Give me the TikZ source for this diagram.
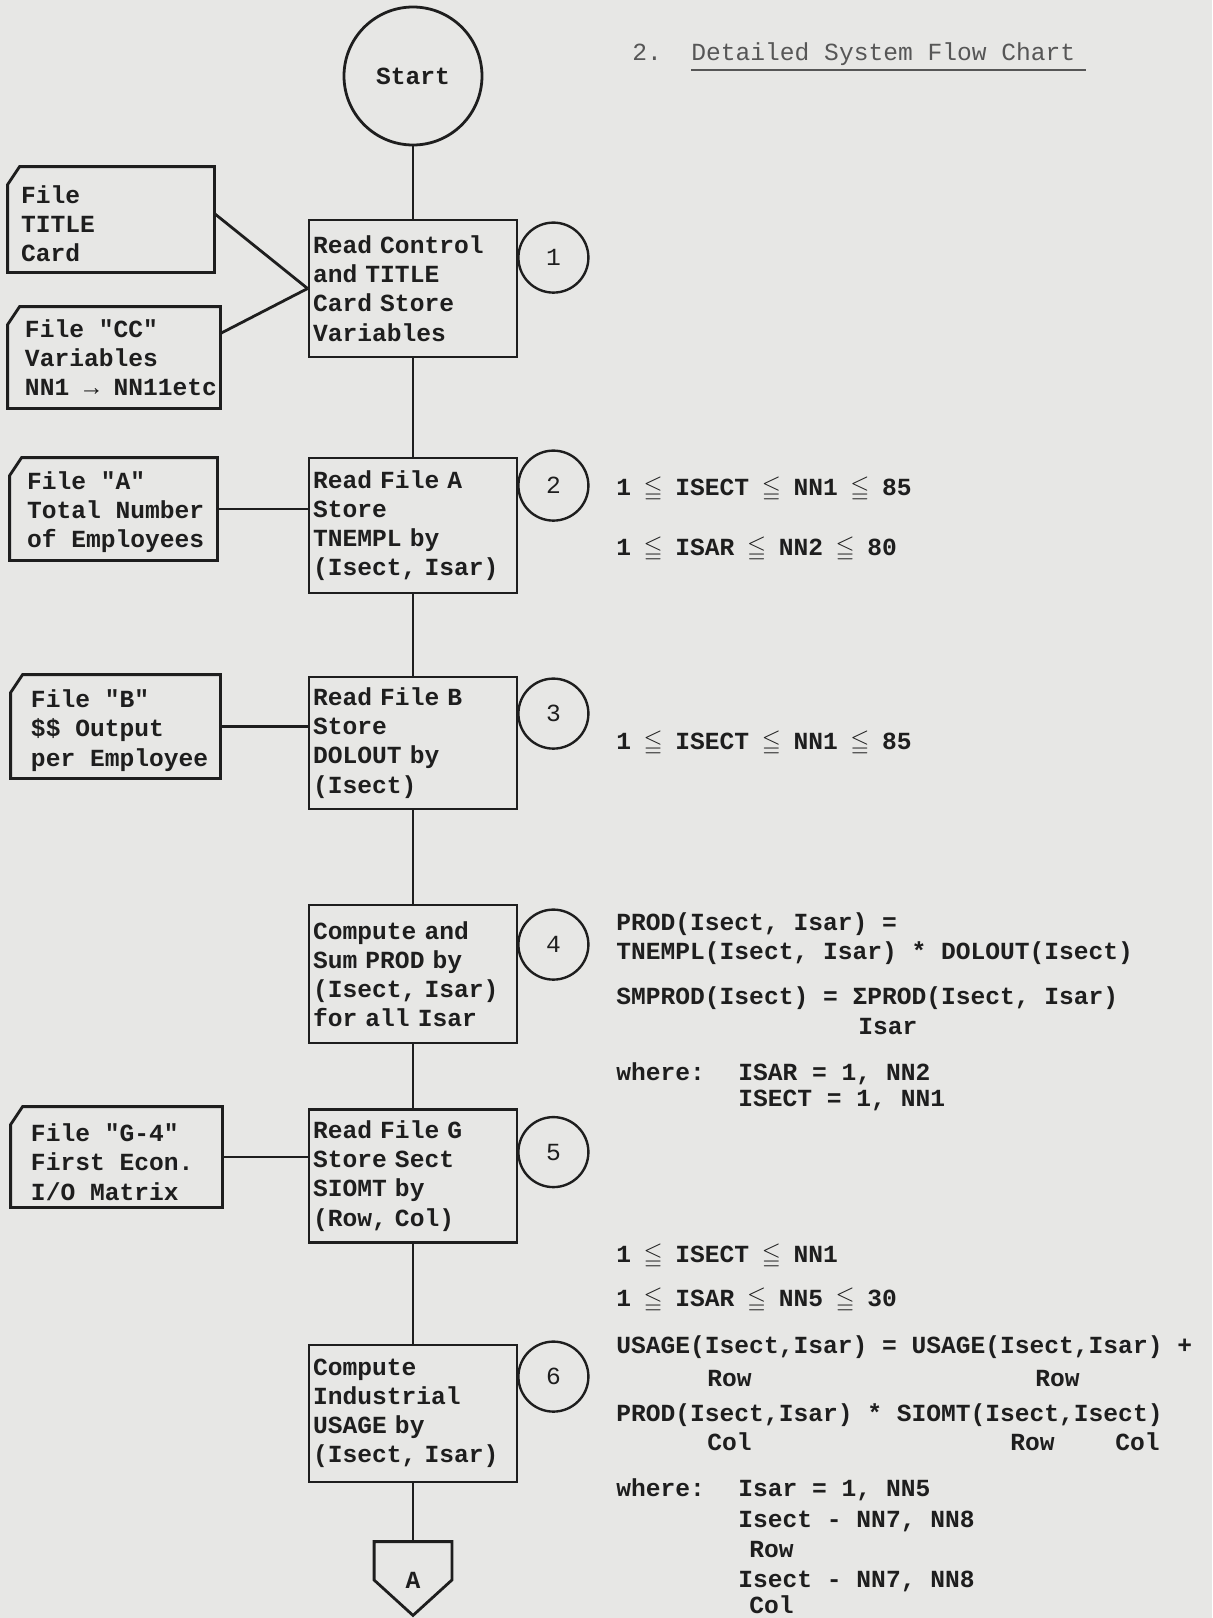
\documentclass[tikz,border=0pt]{standalone}
\usepackage{fontspec}
\usepackage{amssymb}
\setmonofont{Liberation Mono}
\usetikzlibrary{positioning}
\definecolor{paper}{HTML}{E7E7E5}
\definecolor{ink}{HTML}{1E1E1E}
\newcommand{\leqc}{\makebox[0.6em]{$\leqq$}}
\newcommand{\typesize}{\fontsize{12.3pt}{14.6pt}\selectfont}
\newcommand{\cardedge}[1]{%
  \draw[edge] ([yshift=-9pt]#1.north west) -- ([xshift=6pt]#1.north west)
    -- (#1.north east) -- (#1.south east) -- (#1.south west) -- cycle;}

\begin{document}
\begin{tikzpicture}[x=0.5pt, y=-0.5pt,
  font=\ttfamily\bfseries\typesize, text=ink,
  light/.style={font=\ttfamily\mdseries\typesize},
  edge/.style={draw=ink, line width=1.4pt},
  proc/.style={edge, rectangle, align=left, text width=100pt,
               inner xsep=2pt, inner ysep=0pt},
  card/.style={rectangle, inner sep=0pt},
  cardtext/.style={anchor=west, align=left, inner sep=0pt},
  conn/.style={edge, circle, line width=1.2pt, minimum size=35pt, inner sep=0pt, light},
  note/.style={anchor=base west, inner sep=0pt},
  link/.style={draw=ink, line width=1.4pt}]

  % papel
  \fill[paper] (0,0) rectangle (1212,1618);
  \useasboundingbox (0,0) rectangle (1212,1618);

  % titulo
  \node[note, light, text=ink!75] (secno) at (632,60) {2.};
  \node[note, light, text=ink!75] (title) at (691,60) {Detailed System Flow Chart};
  \draw[ink!75, line width=1pt] ([yshift=-5pt]title.base west)
    -- ([yshift=-5pt, xshift=5pt]title.base east);

  % fluxo principal
  \node[edge, circle, minimum size=69pt, inner sep=0pt] (start) at (413,76) {Start};
  \node[proc, minimum height=68.5pt] (rd1) at (413,288.5)
    {Read Control\\and TITLE\\Card Store\\Variables};
  \node[proc, minimum height=67.5pt] (rd2) at (413,525.5)
    {Read File A\\Store\\TNEMPL by\\(Isect, Isar)};
  \node[proc, minimum height=66pt] (rd3) at (413,743)
    {Read File B\\Store\\DOLOUT by\\(Isect)};
  \node[proc, minimum height=69pt] (cmp4) at (413,974)
    {Compute and\\Sum PROD by\\(Isect, Isar)\\for all Isar};
  \node[proc, minimum height=66.5pt] (rd5) at (413,1176)
    {Read File G\\Store Sect\\SIOMT by\\(Row, Col)};
  \node[proc, minimum height=68.5pt] (cmp6) at (413,1413.5)
    {Compute\\Industrial\\USAGE by\\(Isect, Isar)};
  \node[card, minimum width=38.5pt, minimum height=38pt] (offA) at (413,1580) {A};
  \draw[edge] (offA.north west) -- (offA.north east) -- (offA.east)
    -- ([yshift=1.5pt]offA.south) -- (offA.west) -- cycle;

  % numeros dos passos
  \foreach \b/\n/\dy in {rd1/1/19.5, rd2/2/14.5, rd3/3/19, cmp4/4/20.5, rd5/5/22, cmp6/6/16.5}
    \node[conn] (c\n) at ([xshift=17.5pt, yshift=-\dy pt]\b.north east) {\n};

  \foreach \u/\v in {start/rd1, rd1/rd2, rd2/rd3, rd3/cmp4, cmp4/rd5, rd5/cmp6, cmp6/offA}
    \draw[link] (\u) -- (\v);

  % cartoes de entrada
  \node[card, minimum width=103pt, minimum height=52.5pt] (ttl) at (111,219.5) {};
  \node[card, minimum width=106pt, minimum height=50.5pt] (cc) at (114,357.5) {};
  \node[card, minimum width=103.5pt, minimum height=51pt] (fa) at (113.5,509) {};
  \node[card, minimum width=104.5pt, minimum height=51.5pt] (fb) at (115.5,726.5) {};
  \node[card, minimum width=105.5pt, minimum height=50pt] (fg) at (116.5,1157) {};
  \foreach \c in {ttl, cc, fa, fb, fg}
    {\cardedge{\c}}

  \node[cardtext] (ttl-t) at ([xshift=6.5pt, yshift=-2pt]ttl.west) {File\\TITLE\\Card};
  \node[cardtext] (cc-t) at ([xshift=8.5pt]cc.west) {File "CC"\\Variables\\NN1 → NN11etc};
  \node[cardtext] (fa-t) at ([xshift=8.5pt, yshift=-1.5pt]fa.west)
    {File "A"\\Total Number\\of Employees};
  \node[cardtext] (fb-t) at ([xshift=10pt, yshift=-2pt]fb.west)
    {File "B"\\\$\$ Output\\per Employee};
  \node[cardtext] (fg-t) at ([xshift=10pt, yshift=-2.5pt]fg.west)
    {File "G-4"\\First Econ.\\I/O Matrix};

  \draw[link] ([yshift=3pt]ttl.east) -- (rd1.west);
  \draw[link] ([yshift=12pt]cc.east) -- (rd1.west);
  \draw[link] (fa.east) -- (fa.east -| rd2.west);
  \draw[link] (fb.east) -- (fb.east -| rd3.west);
  \draw[link] (fg.east) -- (fg.east -| rd5.west);

  % limites e formulas
  \node[note] (lim2a) at (616,495) {1 \leqc{} ISECT \leqc{} NN1 \leqc{} 85};
  \node[note] (lim2b) at (616,555) {1 \leqc{} ISAR \leqc{} NN2 \leqc{} 80};
  \node[note] (lim3) at (616,749) {1 \leqc{} ISECT \leqc{} NN1 \leqc{} 85};

  \node[note] (f4a) at (616,930) {PROD(Isect, Isar) =};
  \node[note] (f4b) at (616,959) {TNEMPL(Isect, Isar) * DOLOUT(Isect)};
  \node[note] (f4c) at (616,1004) {SMPROD(Isect) = ΣPROD(Isect, Isar)};
  \node[note] (f4d) at (858,1034) {Isar};
  \node[note] (w4) at (616,1080) {where:};
  \node[note] (w4a) at (738,1080) {ISAR = 1, NN2};
  \node[note] (w4b) at (738,1106) {ISECT = 1, NN1};

  \node[note] (lim6a) at (616,1262) {1 \leqc{} ISECT \leqc{} NN1};
  \node[note] (lim6b) at (616,1306) {1 \leqc{} ISAR \leqc{} NN5 \leqc{} 30};
  \node[note] (f6a) at (616,1353) {USAGE(Isect,Isar) = USAGE(Isect,Isar) +};
  \node[note] (f6a1) at (707,1386) {Row};
  \node[note] (f6a2) at (1035,1386) {Row};
  \node[note] (f6b) at (616,1421) {PROD(Isect,Isar) * SIOMT(Isect,Isect)};
  \node[note] (f6b1) at (707,1450) {Col};
  \node[note] (f6b2) at (1010,1450) {Row};
  \node[note] (f6b3) at (1115,1450) {Col};
  \node[note] (w6) at (616,1496) {where:};
  \node[note] (w6a) at (738,1496) {Isar = 1, NN5};
  \node[note] (w6b) at (738,1527) {Isect - NN7, NN8};
  \node[note] (w6c) at (749,1557) {Row};
  \node[note] (w6d) at (738,1587) {Isect - NN7, NN8};
  \node[note] (w6e) at (749,1613) {Col};

\end{tikzpicture}
\end{document}
